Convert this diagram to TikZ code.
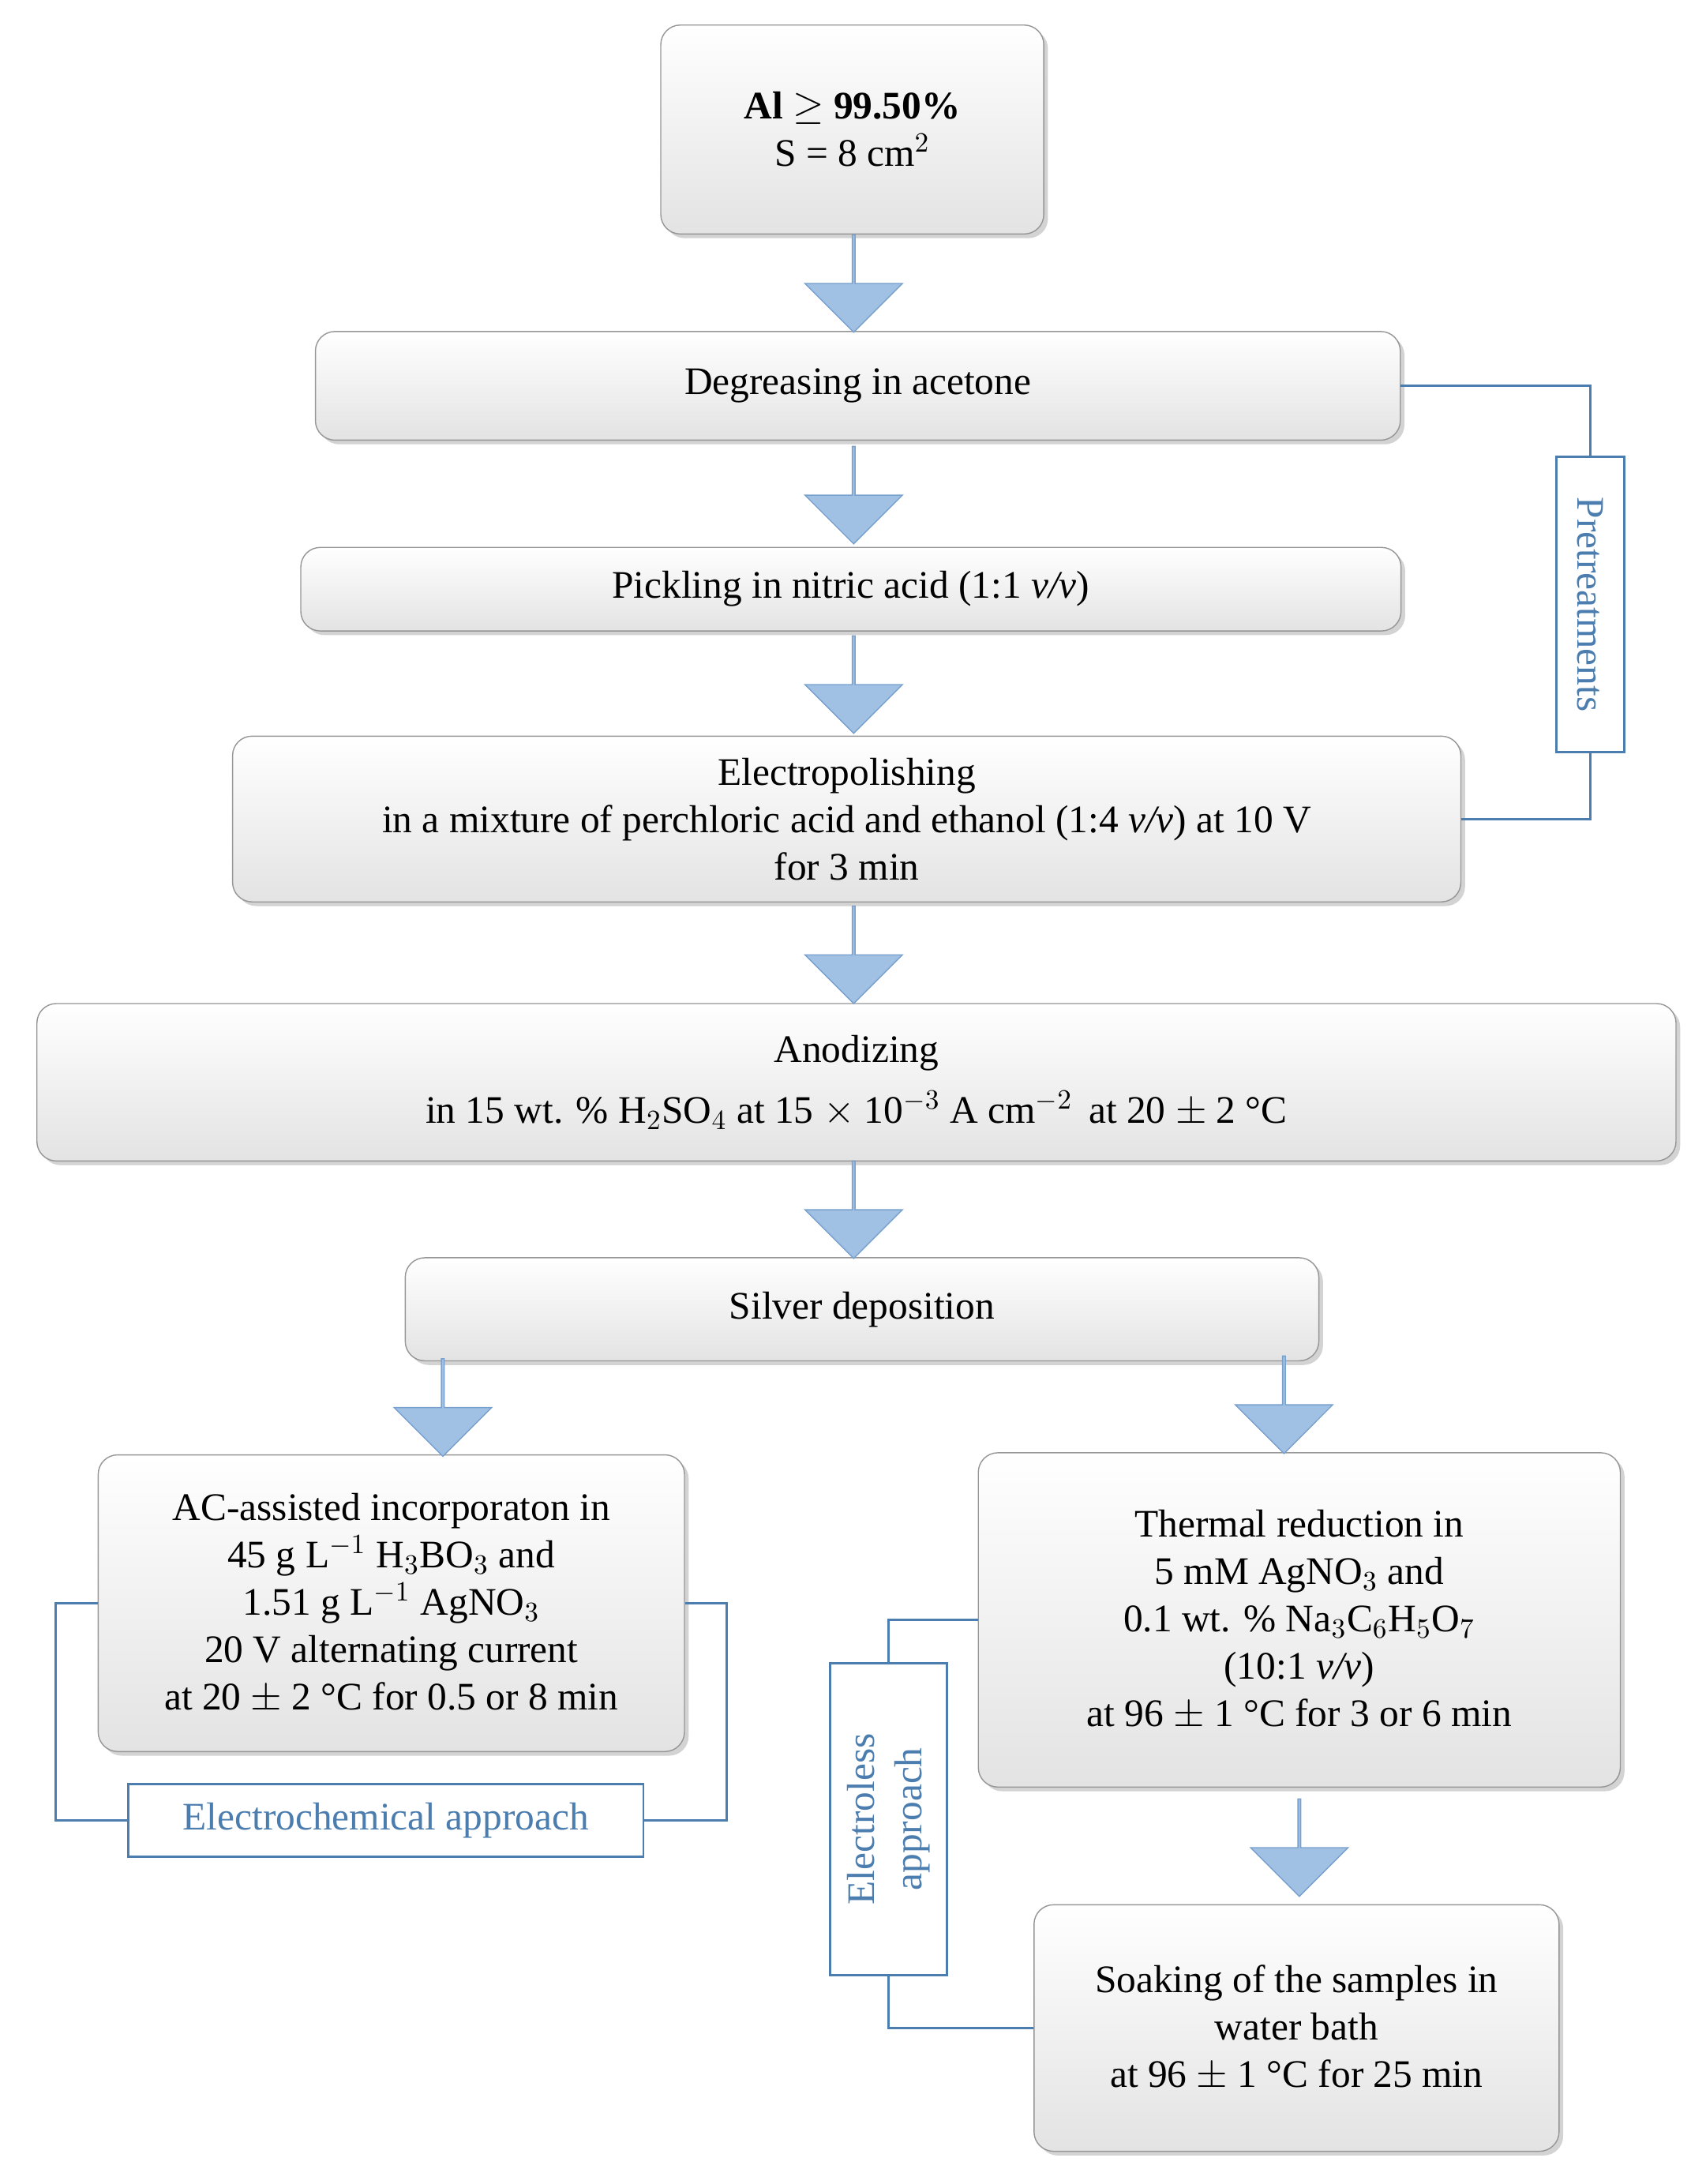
\documentclass[tikz,border=0pt]{standalone}
\usepackage{fontspec}
\setmainfont{Liberation Serif}
\usetikzlibrary{shapes.arrows,shadows}
\definecolor{stepline}{RGB}{150,150,150}
\definecolor{arrfill}{RGB}{160,192,228}
\definecolor{arrline}{RGB}{120,160,205}
\definecolor{grpblue}{RGB}{75,125,175}
\tikzset{
  procstep/.style={draw=stepline, rounded corners=7pt, top color=white, bottom color=gray!22,
    drop shadow={shadow xshift=1.5pt,shadow yshift=-1.5pt,opacity=0.35},
    align=center, font=\fontsize{14}{17}\selectfont, inner sep=0pt},
  blk/.style={single arrow, draw=arrline, fill=arrfill, shape border rotate=270,
    minimum width=35pt, minimum height=35pt, single arrow head extend=6.75pt, inner sep=0pt},
  grp/.style={draw=grpblue, line width=0.8pt, fill=white, text=grpblue,
    font=\fontsize{14}{17}\selectfont, inner sep=0pt, align=center},
  link/.style={draw=grpblue, line width=0.8pt}
}
\begin{document}
\begin{tikzpicture}[x=0.5pt,y=-0.5pt]
\useasboundingbox (0,0) rectangle (1225,1568);

% process steps
\node[procstep, minimum width=137.5pt, minimum height=75pt] (al) at (612,93) {\textbf{Al $\geq$ 99.50\%}\\S = 8 cm$^2$};
\node[procstep, minimum width=389.5pt, minimum height=39pt] (degr) at (616,277) {Degreasing in acetone};
\node[procstep, minimum width=395pt, minimum height=30pt] (pick) at (611,423) {Pickling in nitric acid (1:1 \textit{v/v})};
\node[procstep, minimum width=441pt, minimum height=59.5pt] (epol) at (608,588) {Electropolishing\\in a mixture of perchloric acid and ethanol (1:4 \textit{v/v}) at 10 V\\for 3 min};
\node[procstep, minimum width=588.5pt, minimum height=56.5pt] (anod) at (615,777) {Anodizing\\[5pt]in 15 wt. \% H$_2$SO$_4$ at 15 $\times$ 10$^{-3}$ A cm$^{-2}$\, at 20 $\pm$ 2 °C};
\node[procstep, minimum width=328pt, minimum height=37pt] (silv) at (619,940) {Silver deposition};
\node[procstep, minimum width=210.5pt, minimum height=106.5pt] (acinc) at (281,1151) {AC-assisted incorporaton in\\45 g L$^{-1}$ H$_3$BO$_3$ and\\1.51 g L$^{-1}$ AgNO$_3$\\20 V alternating current\\at 20 $\pm$ 2 °C for 0.5 or 8 min};
\node[procstep, minimum width=230.5pt, minimum height=120pt] (therm) at (933,1163) {Thermal reduction in\\5 mM AgNO$_3$ and\\0.1 wt. \% Na$_3$C$_6$H$_5$O$_7$\\(10:1 \textit{v/v})\\at 96 $\pm$ 1 °C for 3 or 6 min};
\node[procstep, minimum width=188.5pt, minimum height=88.5pt] (soak) at (931,1456) {Soaking of the samples in\\water bath\\at 96 $\pm$ 1 °C for 25 min};

% block arrows
\node[blk] (a1) at (613,203) {};
\node[blk] (a2) at (613,355) {};
\node[blk] (a3) at (613,491) {};
\node[blk] (a4) at (613,685) {};
\node[blk] (a5) at (613,868) {};
\node[blk] (a6) at (318,1010) {};
\node[blk] (a7) at (922,1008) {};
\node[blk] (a8) at (933,1326) {};

% groups
\node[grp, minimum width=24.5pt, minimum height=106pt] (pre) at (1142,434) {\rotatebox{-90}{Pretreatments}};
\draw[link] (degr.east) -- (pre.north |- degr.east) -- (pre.north);
\draw[link] (pre.south) -- (pre.south |- epol.east) -- (epol.east);

\node[grp, minimum width=185pt, minimum height=26pt] (echem) at (277,1307) {Electrochemical approach};
\coordinate (ecl) at (40,1151);
\coordinate (ecr) at (522,1151);
\draw[link] (acinc.west) -- (ecl) -- (ecl |- echem.west) -- (echem.west);
\draw[link] (echem.east) -- (ecr |- echem.east) -- (ecr) -- (acinc.east);

\node[grp, minimum width=42pt, minimum height=112pt] (eless) at (638,1306) {\rotatebox{90}{\begin{tabular}{c}Electroless\\approach\end{tabular}}};
\draw[link] (therm.west) -- (eless.north |- therm.west) -- (eless.north);
\draw[link] (eless.south) -- (eless.south |- soak.west) -- (soak.west);
\end{tikzpicture}
\end{document}
